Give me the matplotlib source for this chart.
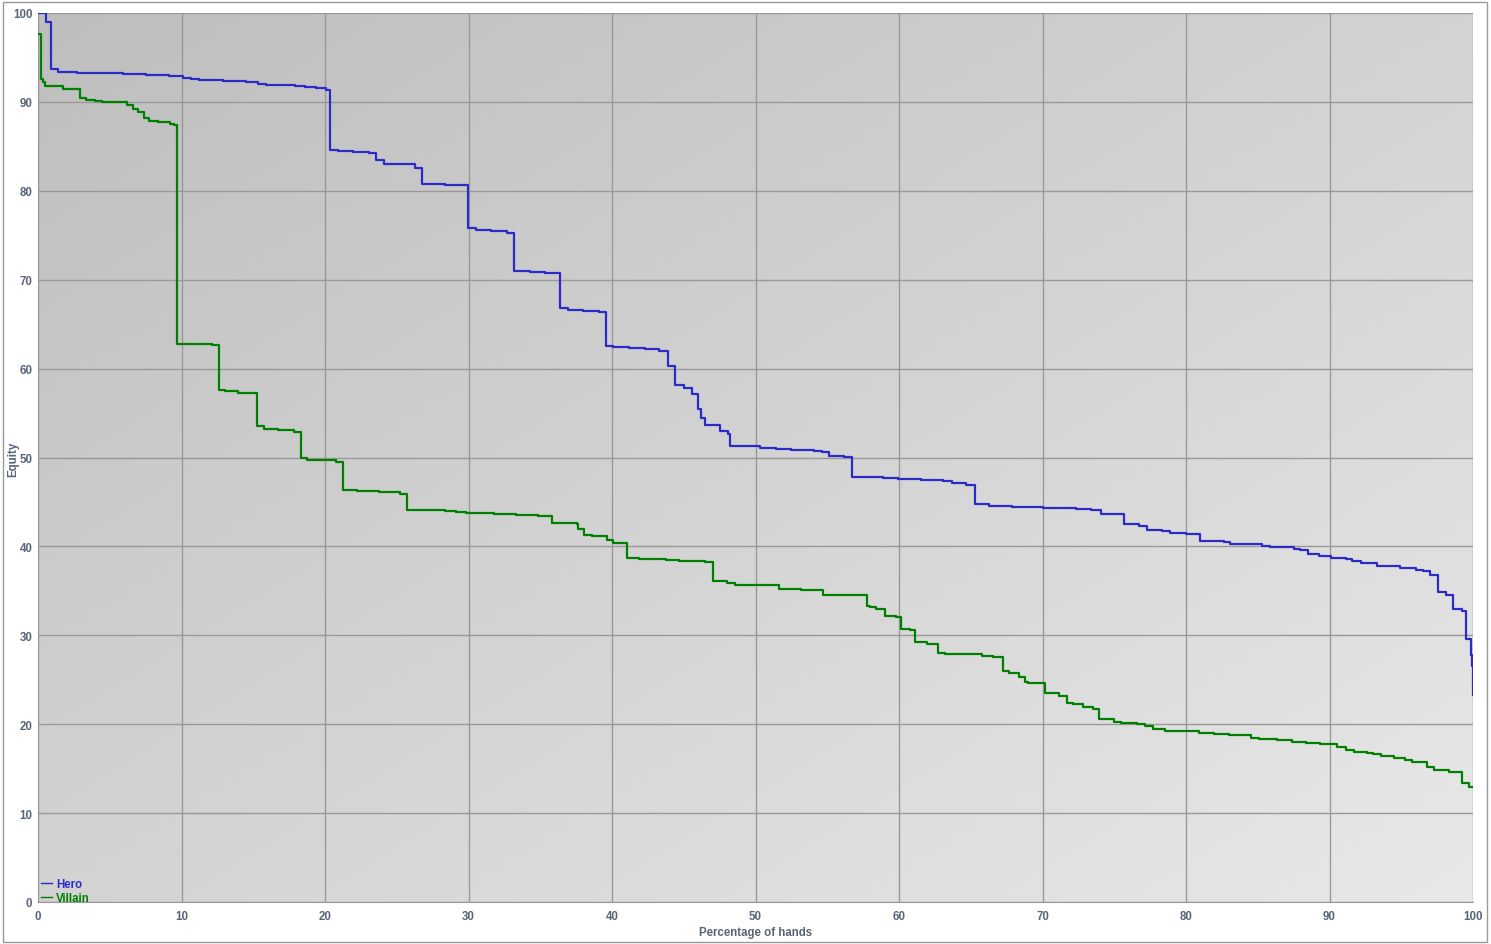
import numpy as np
import matplotlib
matplotlib.use("Agg")
import matplotlib.pyplot as plt
from matplotlib.lines import Line2D
from matplotlib.patches import Rectangle

plt.rcParams['font.family'] = ['Liberation Sans', 'DejaVu Sans']

# ---------------- data (step curves, value holds from x until next x) ----------------
hero_x = [0, 0.53, 0.88, 1.4, 2.7, 5.9, 7.5, 9.1, 10.1, 10.66, 11.2, 12.9, 14.5, 15.3, 15.9,
          17.9, 18.6, 19.4, 20.1, 20.35, 20.9, 21.95, 23.07, 23.55, 24.1, 26.3, 26.76, 28.36,
          29.97, 30.5, 31.6, 32.7, 33.2, 34.3, 35.3, 36.4, 36.9, 37.98, 39.1, 39.6, 40.07, 41.2,
          42.3, 43.3, 43.9, 44.4, 45.0, 45.6, 46.0, 46.2, 46.5, 47.5, 48.1, 48.2, 50.3, 51.4,
          52.5, 54.1, 54.6, 55.1, 56.2, 56.7, 58.9, 59.9, 61.5, 63.1, 63.7, 64.7, 65.3, 66.3,
          67.9, 70.0, 72.3, 73.4, 74.1, 75.7, 76.7, 77.3, 78.3, 78.9, 80.0, 81.0, 82.65, 83.1,
          85.3, 85.85, 87.5, 87.95, 88.5, 89.3, 90.1, 91.15, 91.6, 92.2, 93.3, 94.9, 96.0, 96.5,
          97.0, 97.56, 98.1, 98.6, 99.2, 99.5, 99.86, 99.93, 99.98, 100]
hero_y = [100, 99.0, 93.7, 93.4, 93.3, 93.1, 93.0, 92.9, 92.65, 92.57, 92.5, 92.35, 92.2, 92.05,
          91.95, 91.8, 91.7, 91.55, 91.35, 84.6, 84.5, 84.4, 84.2, 83.5, 83.05, 82.6, 80.8, 80.65,
          75.8, 75.6, 75.5, 75.3, 71.0, 70.85, 70.75, 66.8, 66.6, 66.5, 66.4, 62.5, 62.45, 62.3,
          62.2, 62.0, 60.3, 58.1, 57.8, 57.1, 55.4, 54.4, 53.6, 53.0, 52.6, 51.3, 51.1, 51.0,
          50.85, 50.75, 50.6, 50.2, 50.05, 47.85, 47.75, 47.6, 47.45, 47.35, 47.1, 46.9, 44.8,
          44.55, 44.45, 44.3, 44.2, 44.05, 43.6, 42.55, 42.35, 41.9, 41.7, 41.5, 41.4, 40.65,
          40.45, 40.3, 40.05, 39.95, 39.75, 39.6, 39.1, 38.95, 38.75, 38.6, 38.4, 38.15, 37.8,
          37.6, 37.35, 37.2, 36.8, 34.9, 34.57, 32.96, 32.73, 29.6, 27.8, 26.55, 23.3, 23.3]

villain_x = [0, 0.21, 0.35, 0.49, 1.76, 2.51, 2.93, 3.34, 3.97, 4.44, 6.18, 6.64, 6.97, 7.37,
             7.76, 8.38, 9.2, 9.48, 9.67, 12.1, 12.61, 13.01, 13.92, 15.24, 15.77, 16.75, 17.82,
             18.33, 18.77, 20.75, 21.23, 22.21, 23.74, 25.25, 25.69, 28.36, 29.11, 29.8, 31.8,
             33.31, 34.82, 35.8, 37.54, 37.61, 38.07, 38.59, 39.63, 40.09, 41.02, 41.9, 43.76,
             44.65, 46.48, 47.02, 47.99, 48.57, 51.62, 53.17, 54.68, 57.77, 57.98, 58.38, 59.02,
             59.77, 60.12, 60.77, 61.11, 61.93, 62.72, 63.18, 65.76, 66.53, 67.27, 67.64, 68.34,
             68.78, 68.97, 70.15, 71.15, 71.71, 72.1, 72.84, 73.54, 73.92, 74.98, 75.45, 76.56,
             77.16, 77.68, 78.54, 80.93, 81.97, 83.0, 84.51, 85.07, 86.32, 87.41, 88.36, 89.34,
             90.54, 91.13, 91.73, 92.59, 93.05, 93.59, 94.5, 95.26, 95.73, 96.77, 97.28, 98.33,
             99.23, 99.74, 100]
villain_y = [97.6, 92.6, 92.2, 91.75, 91.5, 91.4, 90.4, 90.25, 90.1, 90.0, 89.6, 89.2, 88.9, 88.2,
             87.9, 87.75, 87.55, 87.35, 62.8, 62.7, 57.6, 57.45, 57.3, 53.5, 53.25, 53.1, 52.9,
             50.0, 49.75, 49.55, 46.35, 46.2, 46.1, 45.85, 44.15, 44.0, 43.85, 43.75, 43.65,
             43.5, 43.4, 42.6, 42.5, 42.0, 41.3, 41.2, 40.75, 40.4, 38.7, 38.6, 38.5,
             38.4, 38.3, 36.1, 35.85, 35.7, 35.2, 35.05, 34.55, 33.35, 33.2, 33.0, 32.2,
             32.1, 30.75, 30.6, 29.2, 29.05, 28.0, 27.9, 27.7, 27.55, 26.0, 25.8, 25.35,
             24.8, 24.6, 23.55, 23.2, 22.4, 22.3, 21.9, 21.7, 20.6, 20.3, 20.1, 20.0,
             19.8, 19.5, 19.25, 19.05, 18.85, 18.75, 18.5, 18.35, 18.25, 18.05, 17.9, 17.75,
             17.4, 17.1, 16.9, 16.8, 16.65, 16.45, 16.25, 16.0, 15.7, 15.2, 14.8, 14.6,
             13.35, 12.9, 12.9]

x_ticks = list(range(0, 101, 10))
y_ticks = list(range(0, 101, 10))
series_names = ["Hero", "Villain"]
series_colors = ["#2b2bc8", "#008000"]

# ---------------- figure ----------------
W, H = 1491, 945
fig = plt.figure(figsize=(W / 100, H / 100), dpi=100)
fig.patch.set_facecolor("white")
ax = fig.add_axes([38 / W, 1 - 903 / H, (1473 - 38) / W, (903 - 14) / H])

# gradient background (dark top-left -> light bottom-right); row 0 drawn at top
gx, gy = np.meshgrid(np.linspace(0, 1, 300), np.linspace(0, 1, 300))
grad = (gx + gy) / 2.0
g = 0.745 + (0.91 - 0.745) * grad
img = np.dstack([g, g, g])
ax.imshow(img, extent=[0, 100, 0, 100], origin="upper", aspect="auto", zorder=0,
          interpolation="bilinear")

ax.set_xlim(0, 100)
ax.set_ylim(0, 100)
ax.set_xticks(x_ticks)
ax.set_yticks(y_ticks)
ax.grid(True, color="#999999", linewidth=1.0, zorder=1)
ax.set_axisbelow(False)
for s in ax.spines.values():
    s.set_visible(False)
ax.spines['left'].set_visible(True)
ax.spines['bottom'].set_visible(True)
ax.spines['left'].set_color("#999999")
ax.spines['bottom'].set_color("#999999")

tick_color = "#5a6478"
ax.tick_params(axis="both", length=0, labelsize=8.3, labelcolor=tick_color)
ax.tick_params(axis="y", pad=4)
ax.tick_params(axis="x", pad=6)
for lab in ax.get_xticklabels() + ax.get_yticklabels():
    lab.set_fontweight("bold")

ax.step(hero_x, hero_y, where="post", color=series_colors[0], lw=1.6, zorder=3)
ax.step(villain_x, villain_y, where="post", color=series_colors[1], lw=1.6, zorder=3)

ax.set_xlabel("Percentage of hands", fontsize=8.3, fontweight="bold", color=tick_color,
              labelpad=2.5)
fig.text(13 / W, 1 - 459 / H, "Equity", rotation=90, fontsize=8.3, fontweight="bold",
         color=tick_color, ha="center", va="center")

handles = [Line2D([0], [0], color=c, lw=1.0) for c in series_colors]
leg = ax.legend(handles, series_names, loc="lower left", frameon=False, fontsize=8.3,
                handlelength=1.0, handletextpad=0.3, borderaxespad=0.0, labelspacing=0.15,
                borderpad=0.0, bbox_to_anchor=(0.002, -0.002))
for t, c in zip(leg.get_texts(), series_colors):
    t.set_color(c)
    t.set_fontweight("bold")

# outer frame
fig.patches.append(Rectangle((2.5 / W, 2.5 / H), (1487 - 2.5) / W, (942 - 2.5) / H,
                             transform=fig.transFigure, fill=False, edgecolor="#999999",
                             linewidth=1.0))

fig.savefig("out.png", dpi=100)
